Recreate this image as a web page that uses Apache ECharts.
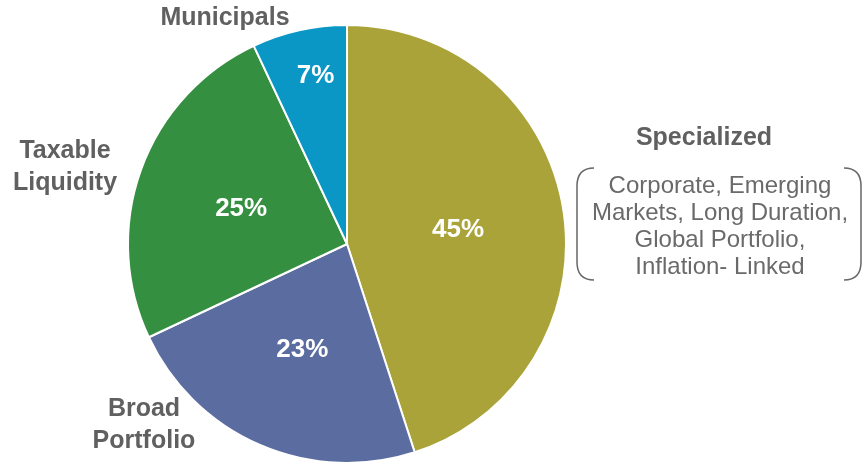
<!DOCTYPE html>
<html>
<head>
<meta charset="utf-8">
<script src="https://cdn.jsdelivr.net/npm/echarts@6/dist/echarts.min.js"></script>
<style>
  html, body { margin: 0; padding: 0; background: #ffffff; }
  #chart { width: 865px; height: 463px; }
</style>
</head>
<body>
<div id="chart"></div>
<script>
// Allocation by strategy (percent of total)
var categories = ['Specialized', 'Broad Portfolio', 'Taxable Liquidity', 'Municipals'];
var values = [45, 23, 25, 7];
var sliceColors = ['#AAA33A', '#5B6CA1', '#358F41', '#0B97C6'];
var specializedDetail = ['Corporate, Emerging', 'Markets, Long Duration,', 'Global Portfolio,', 'Inflation- Linked'];

var chart = echarts.init(document.getElementById('chart'), null, { renderer: 'canvas' });

var nameFont = 'bold 25px "Liberation Sans", Arial, sans-serif';
var nameColor = '#606060';

function twoLine(s) { return s.indexOf(' ') > 0 ? s.replace(' ', '\n') : s; }

// Outside category labels
var namePositions = [
  { x: 704, y: 138 },
  { x: 144, y: 425 },
  { x: 65, y: 167 },
  { x: 225, y: 18 }
];

var graphics = categories.map(function (name, i) {
  return {
    type: 'text',
    x: namePositions[i].x,
    y: namePositions[i].y,
    style: {
      text: twoLine(name),
      font: nameFont,
      fill: nameColor,
      textAlign: 'center',
      textVerticalAlign: 'middle',
      lineHeight: 32
    }
  };
});

// Detail text for the Specialized group, framed by brackets
graphics.push({
  type: 'text',
  x: 720,
  y: 227,
  style: {
    text: specializedDetail.join('\n'),
    font: '24px "Liberation Sans", Arial, sans-serif',
    fill: '#6a6a6a',
    textAlign: 'center',
    textVerticalAlign: 'middle',
    lineHeight: 27
  }
});

function bracket(xEdge, xInner) {
  var st = { stroke: '#666666', lineWidth: 1.5, fill: null };
  return [
    { type: 'bezierCurve', shape: { x1: xInner, y1: 168, cpx1: xEdge, cpy1: 168, x2: xEdge, y2: 186 }, style: st },
    { type: 'line', shape: { x1: xEdge, y1: 186, x2: xEdge, y2: 262 }, style: st },
    { type: 'bezierCurve', shape: { x1: xEdge, y1: 262, cpx1: xEdge, cpy1: 280, x2: xInner, y2: 280 }, style: st }
  ];
}
graphics = graphics.concat(bracket(577, 594), bracket(861, 844));

var option = {
  backgroundColor: '#ffffff',
  animation: false,
  graphic: graphics,
  series: [{
    type: 'pie',
    center: [347, 244],
    radius: 219,
    startAngle: 90,
    clockwise: true,
    silent: true,
    itemStyle: { borderColor: '#ffffff', borderWidth: 2 },
    label: {
      show: true,
      position: 'inside',
      formatter: '{c}%',
      color: '#ffffff',
      fontFamily: '"Liberation Sans", Arial, sans-serif',
      fontWeight: 'bold',
      fontSize: 26
    },
    labelLine: { show: false },
    labelLayout: function (params) {
      if (params.dataIndex === 3) { return { dx: -7, dy: -58 }; }
      return { dy: 3 };
    },
    data: categories.map(function (name, i) {
      return { name: name, value: values[i], itemStyle: { color: sliceColors[i] } };
    })
  }]
};

chart.setOption(option);
</script>
</body>
</html>
